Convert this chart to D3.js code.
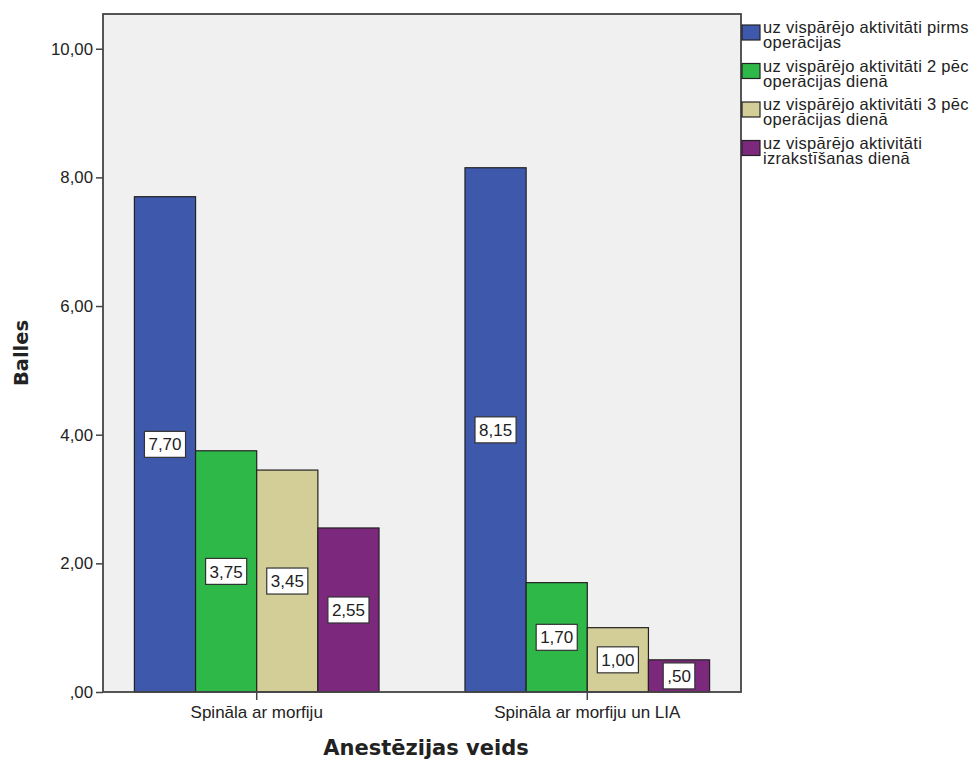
<!DOCTYPE html>
<html>
<head>
<meta charset="utf-8">
<script src="https://cdn.jsdelivr.net/npm/d3@7"></script>
<style>
  body { margin: 0; background: #fff; }
  svg { display: block; font-family: "Liberation Sans", Arial, sans-serif; }
</style>
</head>
<body>
<svg id="chart" width="974" height="760"></svg>
<script>
// Anesthesia groups on the x axis
const categories = ["Spināla ar morfiju", "Spināla ar morfiju un LIA"];
// Activity score series (legend order)
const seriesNames = [
  ["uz vispārējo aktivitāti pirms", "operācijas"],
  ["uz vispārējo aktivitāti 2 pēc", "operācijas dienā"],
  ["uz vispārējo aktivitāti 3 pēc", "operācijas dienā"],
  ["uz vispārējo aktivitāti", "izrakstīšanas dienā"]
];
const beforeSurgery = [7.70, 8.15];
const day2 = [3.75, 1.70];
const day3 = [3.45, 1.00];
const discharge = [2.55, 0.50];
const seriesColors = ["#3E58AC", "#2EB848", "#D3CE97", "#7C287D"];
const yTicks = [0, 2, 4, 6, 8, 10];

const seriesValues = [beforeSurgery, day2, day3, discharge];

const svg = d3.select("#chart");
const plot = { left: 103, right: 741, top: 14, bottom: 692 };

const x0 = d3.scaleBand()
  .domain(categories)
  .range([plot.left, plot.right])
  .paddingInner(0.26)
  .paddingOuter(0.095);

const x1 = d3.scaleBand()
  .domain(d3.range(seriesValues.length))
  .range([0, x0.bandwidth()]);

const y = d3.scaleLinear()
  .domain([0, 10.54])
  .range([plot.bottom, plot.top]);

// Latvian number format: comma decimal, no leading zero below 1
const fmt = v => {
  const s = v.toFixed(2).replace(".", ",");
  return s.startsWith("0,") ? s.slice(1) : s;
};

// Plot background
svg.append("rect")
  .attr("x", plot.left).attr("y", plot.top)
  .attr("width", plot.right - plot.left)
  .attr("height", plot.bottom - plot.top)
  .attr("fill", "#F0F0F0");

// Bars
const groups = svg.append("g").selectAll("g")
  .data(categories)
  .join("g")
  .attr("transform", d => `translate(${x0(d)},0)`);

groups.each(function(cat, ci) {
  const g = d3.select(this);
  seriesValues.forEach((vals, si) => {
    const v = vals[ci];
    g.append("rect")
      .attr("x", x1(si))
      .attr("y", y(v))
      .attr("width", x1.bandwidth())
      .attr("height", y(0) - y(v))
      .attr("fill", seriesColors[si])
      .attr("stroke", "#222")
      .attr("stroke-width", 1.2);
  });
  // Value labels, boxed, at mid-height of each bar
  seriesValues.forEach((vals, si) => {
    const v = vals[ci];
    const cx = x1(si) + x1.bandwidth() / 2;
    const cy = (y(v) + y(0)) / 2;
    const lbl = g.append("g").attr("transform", `translate(${cx},${cy})`);
    const txt = lbl.append("text")
      .attr("text-anchor", "middle")
      .attr("dy", "0.36em")
      .attr("font-size", 17)
      .attr("fill", "#222")
      .text(fmt(v));
    const w = txt.node().getComputedTextLength();
    lbl.insert("rect", "text")
      .attr("x", -w / 2 - 4)
      .attr("y", -13)
      .attr("width", w + 8)
      .attr("height", 26)
      .attr("fill", "#fff")
      .attr("stroke", "#333")
      .attr("stroke-width", 1.2);
  });
});

// Axes
const yAxis = d3.axisLeft(y).tickValues(yTicks).tickFormat(fmt).tickSize(7).tickSizeOuter(0);
const yG = svg.append("g").attr("transform", `translate(${plot.left},0)`).call(yAxis);
yG.select(".domain").remove();
yG.selectAll(".tick line").attr("stroke", "#444").attr("stroke-width", 1.5);
yG.selectAll(".tick text").attr("font-size", 16.8).attr("fill", "#222").attr("x", -10)
  .attr("font-family", "Liberation Sans, Arial, sans-serif");

const xAxis = d3.axisBottom(x0).tickSize(8).tickSizeOuter(0);
const xG = svg.append("g").attr("transform", `translate(0,${plot.bottom})`).call(xAxis);
xG.select(".domain").remove();
xG.selectAll(".tick line").attr("stroke", "#444").attr("stroke-width", 1.5);
xG.selectAll(".tick text").attr("font-size", 17).attr("fill", "#222").attr("y", 14)
  .attr("font-family", "Liberation Sans, Arial, sans-serif");

// Plot frame
svg.append("rect")
  .attr("x", plot.left).attr("y", plot.top)
  .attr("width", plot.right - plot.left)
  .attr("height", plot.bottom - plot.top)
  .attr("fill", "none")
  .attr("stroke", "#444")
  .attr("stroke-width", 1.8);

// Axis titles
svg.append("text")
  .attr("transform", `translate(28,${(plot.top + plot.bottom) / 2}) rotate(-90)`)
  .attr("text-anchor", "middle")
  .attr("font-family", "DejaVu Sans, sans-serif")
  .attr("font-size", 19.5)
  .attr("font-weight", "bold")
  .attr("fill", "#222")
  .text("Balles");

svg.append("text")
  .attr("x", (plot.left + plot.right) / 2 + 4)
  .attr("y", 755)
  .attr("text-anchor", "middle")
  .attr("font-family", "DejaVu Sans, sans-serif")
  .attr("font-size", 21)
  .attr("font-weight", "bold")
  .attr("fill", "#222")
  .text("Anestēzijas veids");

// Legend
const legend = svg.append("g").attr("transform", `translate(${plot.right + 1},25)`);
seriesNames.forEach((lines, i) => {
  const g = legend.append("g").attr("transform", `translate(0,${i * 38.5})`);
  g.append("rect")
    .attr("x", 0).attr("y", 0)
    .attr("width", 18).attr("height", 15)
    .attr("fill", seriesColors[i])
    .attr("stroke", "#222")
    .attr("stroke-width", 1.2);
  lines.forEach((ln, li) => {
    g.append("text")
      .attr("x", 21)
      .attr("y", 8 + li * 15)
      .attr("font-size", 16.5)
      .attr("letter-spacing", 0.3)
      .attr("fill", "#222")
      .text(ln);
  });
});
</script>
</body>
</html>
